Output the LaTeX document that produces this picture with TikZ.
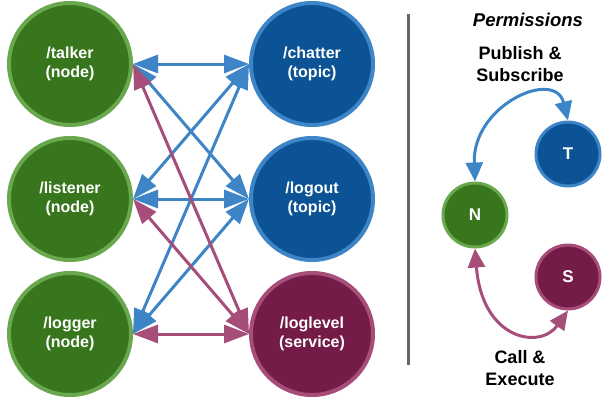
\documentclass[tikz,border=0pt]{standalone}
\usepackage{fontspec}
\setmainfont{Liberation Sans}
\usetikzlibrary{arrows.meta}

\definecolor{nodegreen}{HTML}{38761D}
\definecolor{nodegreenrim}{HTML}{6AA84F}
\definecolor{topicblue}{HTML}{0B5394}
\definecolor{topicbluerim}{HTML}{3D85C6}
\definecolor{srvplum}{HTML}{741B47}
\definecolor{srvplumrim}{HTML}{A64D79}
\definecolor{divider}{HTML}{666666}

\tikzset{
  bigcirc/.style={circle, minimum size=122pt, inner sep=0pt, line width=4pt,
    align=center, text=white, font=\bfseries\fontsize{16}{18.5}\selectfont},
  smallcirc/.style={circle, minimum size=64pt, inner sep=0pt, line width=3pt,
    text=white, font=\bfseries\fontsize{17}{19}\selectfont},
  rosnode/.style={fill=nodegreen, draw=nodegreenrim},
  rostopic/.style={fill=topicblue, draw=topicbluerim},
  rossrv/.style={fill=srvplum, draw=srvplumrim},
  link/.style={line width=3pt,
    {Triangle[length=25pt,width=18pt]}-{Triangle[length=25pt,width=18pt]}},
  bluelink/.style={link, draw=topicbluerim},
  plumlink/.style={link, draw=srvplumrim},
  perm/.style={line width=3pt,
    {Triangle[length=19pt,width=17pt]}-{Triangle[length=19pt,width=17pt]}},
  label/.style={align=center, font=\bfseries\fontsize{18}{22}\selectfont}
}

\begin{document}
\begin{tikzpicture}[x=1pt, y=-1pt]
\useasboundingbox (0,0) rectangle (602,399);

% ROS graph: nodes on the left, topics and services on the right
\node[bigcirc, rosnode] (talker)   at (70,64)  {/talker\\(node)};
\node[bigcirc, rosnode] (listener) at (70,199) {/listener\\(node)};
\node[bigcirc, rosnode] (logger)   at (70,334) {/logger\\(node)};
\node[bigcirc, rostopic] (chatter)  at (312,64)  {/chatter\\(topic)};
\node[bigcirc, rostopic] (logout)   at (312,199) {/logout\\(topic)};
\node[bigcirc, rossrv]   (loglevel) at (312,334) {/loglevel\\(service)};

% topic connections
\draw[bluelink] (talker.east) -- (chatter.west);
\draw[bluelink] (talker.east) -- (logout.west);
\draw[bluelink] (listener.east) -- (chatter.west);
\draw[bluelink] (listener.east) -- (logout.west);
\draw[bluelink] (logger.east) -- (chatter.west);
\draw[bluelink] (logger.east) -- (logout.west);

% service connections
\draw[plumlink] (talker.east) -- (loglevel.west);
\draw[plumlink] (listener.east) -- (loglevel.west);
\draw[plumlink] (logger.east) -- (loglevel.west);

% separator
\coordinate (sepTop) at (408,14);
\coordinate (sepBot) at (408,365);
\draw[divider, line width=3pt] (sepTop) -- (sepBot);

% permissions legend
\node[font=\bfseries\itshape\fontsize{18.5}{22}\selectfont] (permtitle) at (528,20) {Permissions};
\node[label] (pubsub) at (520,64) {Publish \&\\Subscribe};
\node[label] (callexec) at (520,368) {Call \&\\Execute};

\node[smallcirc, rosnode]  (N) at (475,215) {N};
\node[smallcirc, rostopic] (T) at (568,154) {T};
\node[smallcirc, rossrv]   (S) at (568,277) {S};

\draw[perm, draw=topicbluerim]
  (N.north) .. controls (472,105) and (555,68) .. (T.north);
\draw[perm, draw=srvplumrim]
  (N.south) .. controls (482,340) and (540,350) .. (S.south);
\end{tikzpicture}
\end{document}
